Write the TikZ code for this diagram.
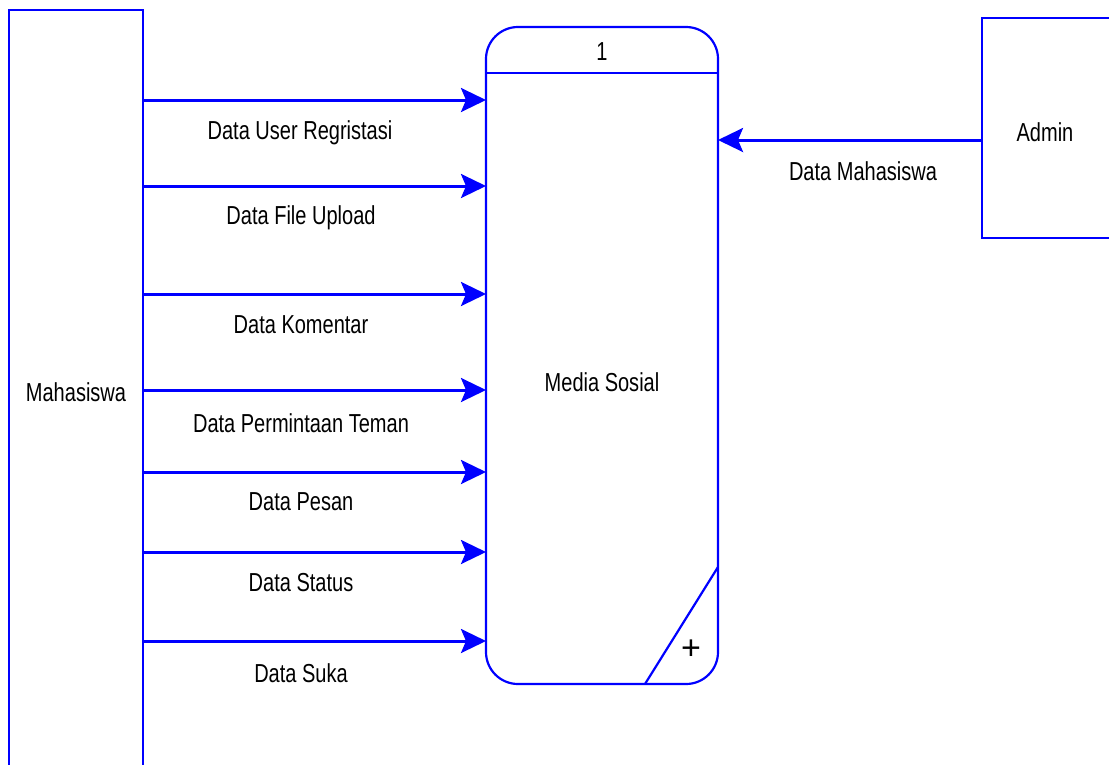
\documentclass[tikz,border=0pt]{standalone}
\usepackage{fontspec}
\setmainfont[FakeStretch=0.77]{Liberation Sans}
\usetikzlibrary{arrows.meta}
\begin{document}
\begin{tikzpicture}[x=1pt,y=-1pt,
  ln/.style={draw={rgb,255:red,0;green,0;blue,255},line width=2.2pt},
  flow/.style={draw={rgb,255:red,0;green,0;blue,255},line width=3pt,-{Stealth[length=25pt,width=24pt,inset=5pt]}},
  lbl/.style={font=\fontsize{26}{28}\selectfont,text=black,inner sep=0pt},
]
\useasboundingbox (0,0) rectangle (1109,764);
% entities
\draw[ln] (143,780) -- (143,10) -- (9,10) -- (9,780);
\node[lbl] (mhs) at (76,392) {Mahasiswa};
\draw[ln] (1120,18) -- (982,18) -- (982,238) -- (1120,238);
\node[lbl] (adm) at (1045,132) {Admin};
% process
\draw[ln,rounded corners=32pt] (486,684) rectangle (718,27);
\draw[ln] (486,73) -- (718,73);
\node[lbl] (num) at (602,52) {1};
\node[lbl] (proc) at (602,382) {Media Sosial};
\draw[ln] (645,684) -- (718,567);
\node[font=\fontsize{34}{34}\selectfont\addfontfeature{FakeStretch=1.0},inner sep=0pt] (plus) at (691,650) {+};
% coordinates
\foreach \n/\y in {a/100,b/186,c/294,d/390,e/472,f/552,g/641}{
  \coordinate (s\n) at (143,\y);
  \coordinate (t\n) at (486,\y);
}
\coordinate (sa2) at (982,140);
\coordinate (ta2) at (718,140);
\draw[flow] (sa) -- (ta);
\draw[flow] (sb) -- (tb);
\draw[flow] (sc) -- (tc);
\draw[flow] (sd) -- (td);
\draw[flow] (se) -- (te);
\draw[flow] (sf) -- (tf);
\draw[flow] (sg) -- (tg);
\draw[flow] (sa2) -- (ta2);
\node[lbl] (l1) at (300,133) {Data User Regristasi};
\node[lbl] (l2) at (301,218) {Data File Upload};
\node[lbl] (l3) at (301,325) {Data Komentar};
\node[lbl] (l4) at (301,423) {Data Permintaan Teman};
\node[lbl] (l5) at (301,502) {Data Pesan};
\node[lbl] (l6) at (301,583) {Data Status};
\node[lbl] (l7) at (301,673) {Data Suka};
\node[lbl] (l8) at (863,171) {Data Mahasiswa};
\end{tikzpicture}
\end{document}
